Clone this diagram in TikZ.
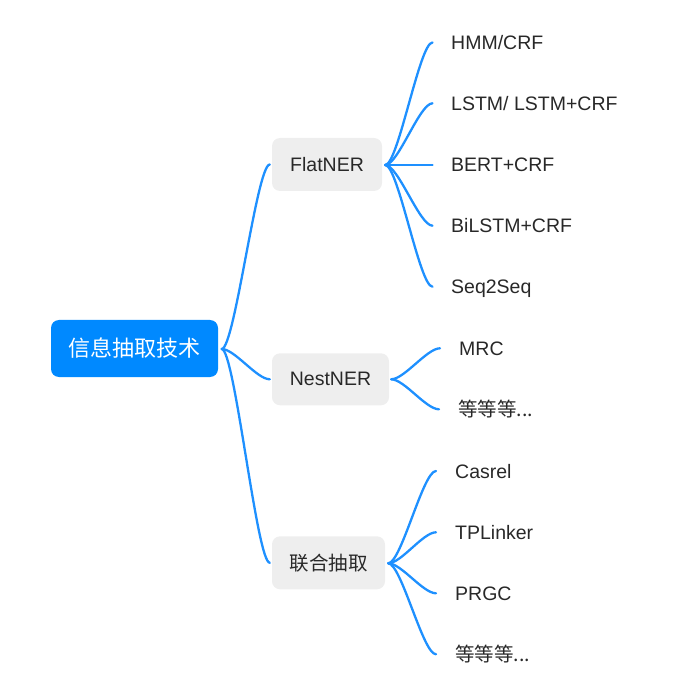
\documentclass[tikz,border=0pt]{standalone}
\usepackage{fontspec}
\setmainfont{Liberation Sans}
\newfontfamily\cjk{Noto Sans CJK SC}
\usetikzlibrary{calc}
\definecolor{rootblue}{RGB}{0,137,255}
\definecolor{linkblue}{RGB}{30,144,255}
\definecolor{boxgray}{RGB}{238,238,238}
\definecolor{txt}{RGB}{40,40,40}
\tikzset{
  rootbox/.style={fill=rootblue, rounded corners=8pt, text=white, inner sep=0pt,
    minimum width=167pt, minimum height=57pt, font=\fontsize{22}{26}\selectfont},
  midbox/.style={fill=boxgray, rounded corners=8pt, text=txt, inner sep=0pt,
    minimum height=53pt, font=\fontsize{19.5}{23}\selectfont},
  leaf/.style={anchor=base west, inner sep=0pt, text=txt, font=\fontsize{19.5}{23}\selectfont},
  link/.style={draw=linkblue, line width=2.3pt, line cap=round},
}
\newcommand{\curve}[2]{\draw[link] (#1) .. controls +(13,0) and +(-13,0) .. (#2);}
\begin{document}
\begin{tikzpicture}[x=1pt,y=-1pt]
\useasboundingbox (0,0) rectangle (693,692);
% main nodes
\node[rootbox] (root) at (134.5,348.5) {\cjk 信息抽取技术};
\node[midbox, minimum width=110pt] (flat) at (327,164.5) {FlatNER};
\node[midbox, minimum width=117pt, minimum height=52pt] (nest) at (330.5,379.3) {NestNER};
\node[midbox, minimum width=113pt] (joint) at (328.5,562.8) {\cjk 联合抽取};
% leaves
\node[leaf] (f1) at (451,49.5) {HMM/CRF};
\node[leaf] (f2) at (451,110.3) {LSTM/ LSTM+CRF};
\node[leaf] (f3) at (451,172) {BERT+CRF};
\node[leaf] (f4) at (451,232.7) {BiLSTM+CRF};
\node[leaf] (f5) at (451,293.7) {Seq2Seq};
\node[leaf] (n1) at (459,355.3) {MRC};
\node[leaf] (n2) at (458,416.3) {\cjk 等等等...};
\node[leaf] (j1) at (455,478) {Casrel};
\node[leaf] (j2) at (455,539.3) {TPLinker};
\node[leaf] (j3) at (455,600.3) {PRGC};
\node[leaf] (j4) at (455,661.3) {\cjk 等等等...};
% connector points
\coordinate (rs) at ($(root.east)+(3.5,0.5)$);
\coordinate (fs) at ($(flat.east)+(3,0.5)$);
\coordinate (ns) at ($(nest.east)+(2,0)$);
\coordinate (js) at ($(joint.east)+(3,0.5)$);
\coordinate (fe) at ($(flat.west)+(-2,0)$);
\coordinate (ne) at ($(nest.west)+(-2,0)$);
\coordinate (je) at ($(joint.west)+(-2,0)$);
\foreach \n in {f1,f2,f3,f4,f5}{\coordinate (\n e) at ($(\n.base west)+(-18.5,-7)$);}
\foreach \n in {n1,n2,j1,j2,j3,j4}{\coordinate (\n e) at ($(\n.base west)+(-19,-7)$);}
% connectors
\curve{rs}{fe}
\curve{rs}{ne}
\curve{rs}{je}
\foreach \n in {f1,f2,f3,f4,f5}{\curve{fs}{\n e}}
\foreach \n in {n1,n2}{\curve{ns}{\n e}}
\foreach \n in {j1,j2,j3,j4}{\curve{js}{\n e}}
\end{tikzpicture}
\end{document}
